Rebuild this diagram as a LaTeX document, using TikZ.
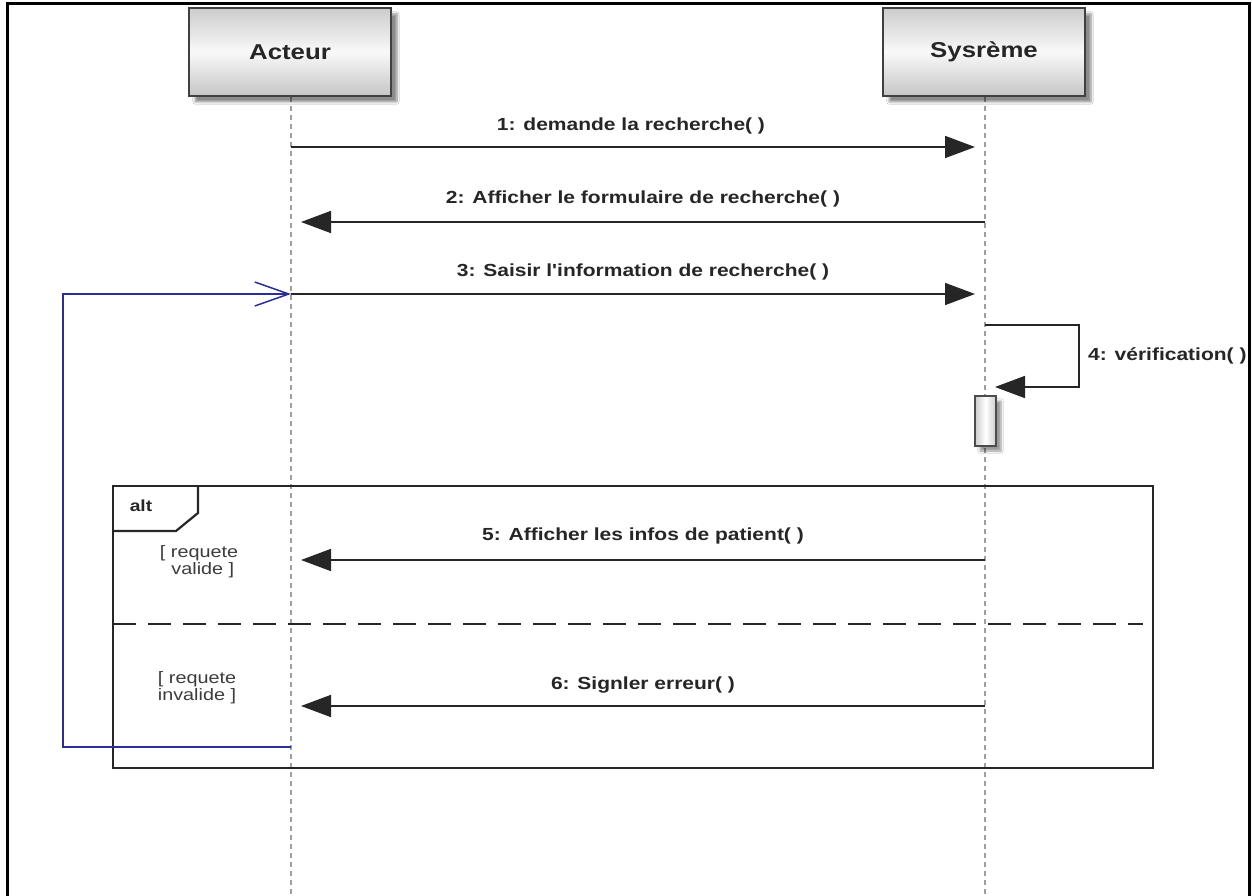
\documentclass[tikz,border=0pt]{standalone}
\usepackage{fontspec}
\setmainfont{Liberation Sans}
\newfontfamily\msgfont[FakeStretch=1.2]{Liberation Sans}
\usetikzlibrary{arrows.meta,shadows.blur}
\definecolor{loopblue}{RGB}{45,45,150}
\definecolor{guardgray}{RGB}{60,60,60}
\tikzset{
  head/.style={draw=black!75, line width=1.8pt, minimum width=202pt, minimum height=88pt,
    top color=gray!40, bottom color=gray!45, middle color=gray!5,
    blur shadow={shadow xshift=6pt, shadow yshift=-6pt, shadow blur steps=8, shadow opacity=45},
    font=\msgfont\bfseries\fontsize{21.5}{24}\selectfont, text=black!85},
  lifeline/.style={gray!75, line width=2.2pt, dash pattern=on 5pt off 4pt},
  msg/.style={line width=1.8pt, black!85, -{Triangle[length=30pt,width=22pt]}, shorten >=10pt},
  msglabel/.style={font=\msgfont\bfseries\fontsize{17.5}{20}\selectfont, text=black!85, inner sep=0pt},
  guard/.style={font=\msgfont\fontsize{16.5}{17}\selectfont, text=guardgray, align=left, inner sep=0pt},
  frameline/.style={black!85, line width=2.4pt},
  loopline/.style={loopblue, line width=2.2pt},
  activation/.style={draw=black!70, line width=1.5pt, minimum width=21pt, minimum height=50pt, inner sep=0pt,
    left color=gray!40, right color=gray!40, middle color=white,
    blur shadow={shadow xshift=5pt, shadow yshift=-5pt, shadow blur steps=6, shadow opacity=40}}
}
\begin{document}
\begin{tikzpicture}[x=1pt,y=-1pt]
  \useasboundingbox (0,0) rectangle (1252,896);
  \fill[white] (0,0) rectangle (1252,896);

  % page border (open at the bottom)
  \draw[black, line width=3pt] (7,896) -- (7,4) -- (1249.5,4) -- (1249.5,896);

  % lifelines
  \coordinate (aTop) at (291,97);  \coordinate (aBot) at (291,896);
  \coordinate (sTop) at (985,97);  \coordinate (sBot) at (985,896);
  \draw[lifeline] (aTop) -- (aBot);
  \draw[lifeline] (sTop) -- (sBot);

  % participants
  \node[head] (acteur) at (290,52) {Acteur};
  \node[head] (systeme) at (984,52) {Sysrème};

  % message anchors on the lifelines
  \foreach \n/\y in {1/147, 2/222, 3/294, 5/560, 6/706} {
    \coordinate (a\n) at (291,\y);
    \coordinate (s\n) at (985,\y);
  }

  % messages
  \draw[msg] (a1) -- (s1);
  \node[msglabel] (l1) at (631,126) {1: demande la recherche( )};
  \draw[msg] (s2) -- (a2);
  \node[msglabel] (l2) at (643,199) {2: Afficher le formulaire de recherche( )};
  \draw[msg] (a3) -- (s3);
  \node[msglabel] (l3) at (643,272) {3: Saisir l'information de recherche( )};

  % self call
  \coordinate (v0) at (985,325);
  \coordinate (v1) at (1079,325);
  \coordinate (v2) at (1079,387);
  \coordinate (v3) at (985,387);
  \draw[msg] (v0) -- (v1) -- (v2) -- (v3);
  \node[msglabel, anchor=west] (l4) at (1088,356) {4: vérification( )};

  % activation bar
  \node[activation] (act) at (985.5,421) {};

  % alt combined fragment
  \coordinate (fTL) at (113,486);
  \coordinate (fBR) at (1153,768);
  \draw[frameline] (fTL) rectangle (fBR);
  \coordinate (t1) at (198,486);
  \coordinate (t2) at (198,513);
  \coordinate (t3) at (176,531);
  \coordinate (t4) at (113,531);
  \draw[frameline, line width=2.2pt] (t1) -- (t2) -- (t3) -- (t4);
  \node[font=\msgfont\bfseries\fontsize{16}{18}\selectfont, text=black!85] (alt) at (141,506) {alt};

  \node[guard] (g1) at (199,562) {[ requete\\\hspace*{0.7em}valide ]};
  \draw[msg] (s5) -- (a5);
  \node[msglabel] (l5) at (643,536) {5: Afficher les infos de patient( )};

  % operand separator
  \coordinate (d0) at (113,624);
  \coordinate (d1) at (1143,624);
  \draw[black!85, line width=2.2pt, dash pattern=on 23pt off 12pt] (d0) -- (d1);

  \node[guard] (g2) at (197,688) {[ requete\\invalide ]};
  \draw[msg] (s6) -- (a6);
  \node[msglabel] (l6) at (643,685) {6: Signler erreur( )};

  % return loop back to message 3
  \coordinate (r0) at (291,747);
  \coordinate (r1) at (63,747);
  \coordinate (r2) at (63,294);
  \draw[loopline, -{Straight Barb[length=34pt,width=24pt,line width=1.5pt]}] (r0) -- (r1) -- (r2) -- (a3);
\end{tikzpicture}
\end{document}
